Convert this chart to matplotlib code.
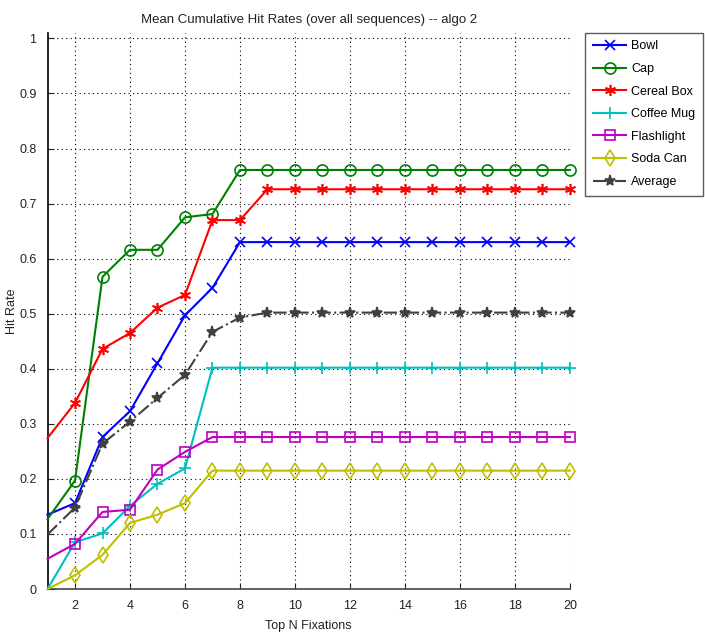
import matplotlib
matplotlib.use("Agg")
import matplotlib.pyplot as plt

plt.rcParams['font.family'] = ['Liberation Sans', 'DejaVu Sans']

fixations = list(range(1, 21))

bowl = [0.135, 0.156, 0.276, 0.323, 0.410, 0.497, 0.547, 0.630] + [0.630] * 12
cap = [0.127, 0.197, 0.567, 0.616, 0.616, 0.675, 0.681, 0.761] + [0.761] * 12
cereal_box = [0.274, 0.338, 0.436, 0.465, 0.511, 0.534, 0.670, 0.670] + [0.726] * 12
coffee_mug = [0.0, 0.085, 0.101, 0.151, 0.191, 0.219, 0.402, 0.402] + [0.402] * 12
flashlight = [0.055, 0.082, 0.140, 0.144, 0.217, 0.249, 0.276, 0.276] + [0.276] * 12
soda_can = [0.0, 0.025, 0.062, 0.120, 0.135, 0.156, 0.215, 0.215] + [0.215] * 12
average = [0.099, 0.148, 0.264, 0.304, 0.347, 0.389, 0.467, 0.493] + [0.502] * 12

series = [
    ("Bowl", bowl, (0, 0, 1), 'x', '-', True, 7),
    ("Cap", cap, (0, 0.5, 0), 'o', '-', False, 8),
    ("Cereal Box", cereal_box, (1, 0, 0), (6, 2, 0), '-', True, 8),
    ("Coffee Mug", coffee_mug, (0, 0.75, 0.75), '+', '-', True, 8),
    ("Flashlight", flashlight, (0.75, 0, 0.75), 's', '-', False, 7),
    ("Soda Can", soda_can, (0.75, 0.75, 0), 'd', '-', False, 8),
    ("Average", average, (0.25, 0.25, 0.25), '*', '-.', True, 8),
]

fig = plt.figure(figsize=(7.05, 6.32), dpi=100)
ax = fig.add_axes([0.0674, 0.068, 0.741, 0.880])

for name, vals, col, mk, ls, filled, ms in series:
    ax.plot(fixations, vals, linestyle=ls, color=col, linewidth=1.5,
            marker=mk, markersize=ms, markeredgewidth=1.2,
            markevery=list(range(1, len(fixations))),
            markerfacecolor=col if filled else 'none',
            markeredgecolor=col, label=name, clip_on=False, zorder=3)

ax.set_xlim(1, 20)
ax.set_ylim(0, 1.01)
ax.set_xticks(range(2, 21, 2))
ax.set_yticks([i / 10 for i in range(11)])
ax.set_yticklabels(['0'] + [f'{i/10:.1f}' for i in range(1, 10)] + ['1'])
ax.tick_params(direction='in', length=4, labelsize=9, colors='#222222', pad=8)
ax.grid(True, linestyle=(0, (1, 3)), color='black', linewidth=0.8)
ax.set_axisbelow(True)
for side in ('top', 'right'):
    ax.spines[side].set_visible(False)
ax.spines['left'].set_color('black')
ax.spines['bottom'].set_color('#444444')
ax.spines['left'].set_linewidth(1.2)
ax.spines['bottom'].set_linewidth(1.2)

ax.set_title("Mean Cumulative Hit Rates (over all sequences) -- algo 2",
             fontsize=9.5, color='#222222', pad=7)
ax.set_xlabel("Top N Fixations", fontsize=9, color='#222222', labelpad=6)
ax.set_ylabel("Hit Rate", fontsize=9, color='#222222')
ax.yaxis.set_label_coords(-0.056, 0.5)

leg = ax.legend(loc='upper left', bbox_to_anchor=(0.830, 0.948),
                bbox_transform=fig.transFigure, fontsize=9, frameon=True,
                fancybox=False, edgecolor='#333333', handlelength=2.7,
                handletextpad=0.4, borderpad=0.6, labelspacing=0.85,
                borderaxespad=0)
leg.get_frame().set_linewidth(1.0)

fig.savefig("out.png", dpi=100)
